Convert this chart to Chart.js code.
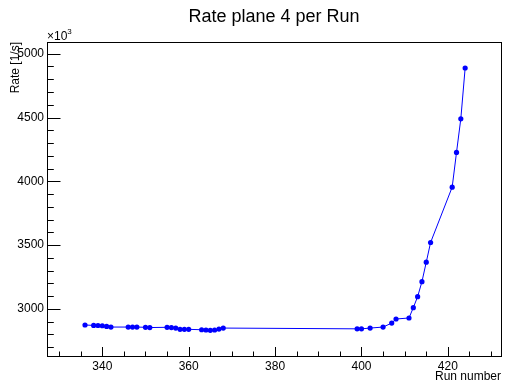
<!DOCTYPE html>
<html>
<head>
<meta charset="utf-8">
<script src="https://cdn.jsdelivr.net/npm/chart.js@4"></script>
<style>
html, body { margin: 0; padding: 0; background: #fff; }
</style>
</head>
<body>
<canvas id="RateChart" width="506" height="385"></canvas>
<script>
var runs = [336, 338, 339, 340, 341, 342, 346, 347, 348, 350, 351, 355, 356, 357, 358, 359, 360,
            363, 364, 365, 366, 367, 368, 399, 400, 402, 405, 407, 408, 411, 412, 413, 414, 415,
            416, 421, 422, 423, 424];
var rates = [2873, 2870, 2869, 2867, 2862, 2857, 2857, 2857, 2857, 2855, 2853, 2855, 2853, 2849, 2839, 2839, 2839,
             2836, 2834, 2831, 2834, 2841, 2849, 2843, 2843, 2849, 2857, 2888, 2920, 2928, 3009, 3095, 3213, 3366,
             3520, 3954, 4226, 4490, 4888];
var xTicks = [340, 360, 380, 400, 420];
var yTicks = [3000, 3500, 4000, 4500, 5000];

var fontName = '"Liberation Sans", Arial, sans-serif';

// ROOT style frame: box + inward ticks + x10^3 multiplier
var rootFrame = {
    id: 'rootFrame',
    afterDraw: function (chart) {
        var c = chart.ctx;
        var a = chart.chartArea;
        var xs = chart.scales.x;
        var ys = chart.scales.y;
        c.save();
        c.strokeStyle = '#000';
        c.lineWidth = 1;
        c.strokeRect(Math.round(a.left) + 0.5, Math.round(a.top) + 0.5,
                     Math.round(a.right - a.left), Math.round(a.bottom - a.top));
        c.beginPath();
        for (var v = 330; v <= 430; v += 5) {
            var px = Math.round(xs.getPixelForValue(v)) + 0.5;
            var len = (v % 20 === 0) ? 9 : 4.5;
            c.moveTo(px, a.bottom);
            c.lineTo(px, a.bottom - len);
        }
        for (var w = 2700; w <= 5000; w += 100) {
            var py = Math.round(ys.getPixelForValue(w)) + 0.5;
            var l2 = (w % 500 === 0) ? 13.5 : 6.8;
            c.moveTo(a.left, py);
            c.lineTo(a.left + l2, py);
        }
        c.stroke();

        c.fillStyle = '#000';
        c.textBaseline = 'alphabetic';
        c.textAlign = 'left';
        c.font = '12px ' + fontName;
        c.fillText('\u00d710', a.left, a.top - 2);
        var wd = c.measureText('\u00d710').width;
        c.font = '8px ' + fontName;
        c.fillText('3', a.left + wd, a.top - 8);
        c.restore();
    }
};

var points = runs.map(function (r, i) {
    return { x: r, y: rates[i] };
});

var ctx = document.getElementById('RateChart');
new Chart(ctx, {
    type: 'scatter',
    data: {
        datasets: [{
            data: points,
            showLine: true,
            borderColor: '#0000ff',
            backgroundColor: '#0000ff',
            borderWidth: 1,
            pointRadius: 2.6,
            pointBorderWidth: 0
        }]
    },
    options: {
        responsive: false,
        animation: false,
        devicePixelRatio: 1,
        layout: { padding: { left: 0, right: 5, top: 0, bottom: 0 } },
        plugins: {
            legend: { display: false },
            tooltip: { enabled: false },
            title: {
                display: true,
                text: 'Rate plane 4 per Run',
                fullSize: false,
                color: '#000',
                font: { family: fontName, size: 18, weight: 'normal' },
                padding: { top: 6, bottom: 14.4 }
            }
        },
        scales: {
            x: {
                type: 'linear',
                min: 327.2,
                max: 432.3,
                grid: { display: false, drawTicks: false },
                border: { display: false },
                ticks: {
                    color: '#000',
                    padding: 3,
                    maxRotation: 0,
                    font: { family: fontName, size: 12 },
                    callback: function (v) { return String(v); }
                },
                title: {
                    display: true,
                    text: 'Run number',
                    align: 'end',
                    color: '#000',
                    font: { family: fontName, size: 12 },
                    padding: { top: 0, bottom: 1 }
                },
                afterBuildTicks: function (s) {
                    s.ticks = xTicks.map(function (v) { return { value: v }; });
                },
                afterFit: function (s) { s.height = 29; }
            },
            y: {
                type: 'linear',
                min: 2630,
                max: 5092,
                grid: { display: false, drawTicks: false },
                border: { display: false },
                ticks: {
                    color: '#000',
                    padding: 3,
                    font: { family: fontName, size: 12 },
                    callback: function (v) { return String(v); }
                },
                title: {
                    display: true,
                    text: 'Rate [1/s]',
                    align: 'end',
                    color: '#000',
                    font: { family: fontName, size: 12 },
                    padding: { top: 8, bottom: 0 }
                },
                afterBuildTicks: function (s) {
                    s.ticks = yTicks.map(function (v) { return { value: v }; });
                },
                afterFit: function (s) { s.width = 47; }
            }
        }
    },
    plugins: [rootFrame]
});
</script>
</body>
</html>
